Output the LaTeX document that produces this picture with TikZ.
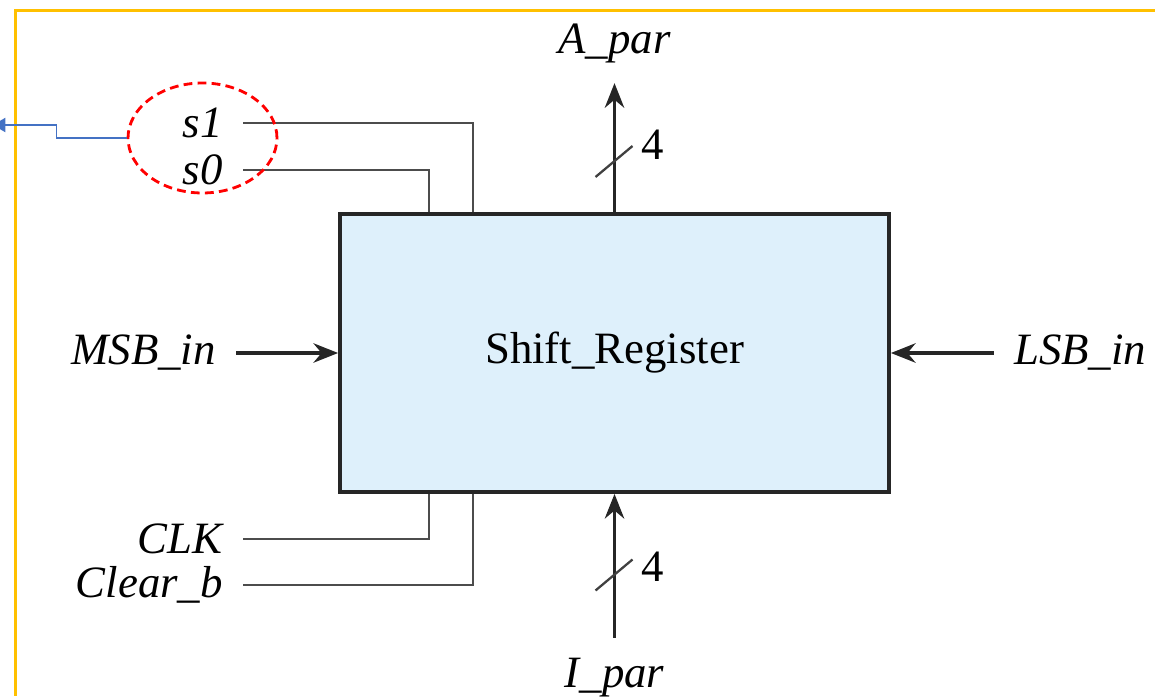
\documentclass[tikz,border=0pt]{standalone}
\usepackage{fontspec}
\setmainfont{Liberation Serif}
\usepackage{tikz}
\usetikzlibrary{shapes.geometric, arrows.meta, positioning}
\definecolor{regfill}{RGB}{222,240,251}
\definecolor{frameyellow}{RGB}{255,192,0}
\definecolor{selblue}{RGB}{68,114,196}

\begin{document}
\begin{tikzpicture}[x=0.02cm, y=-0.02cm,
    regbox/.style={rectangle, draw=black!85, fill=regfill, line width=2.2pt, minimum width=10.98cm, minimum height=5.56cm, align=center, font=\fontsize{25.5}{30}\selectfont},
    sig/.style={inner xsep=0.4cm, inner ysep=0.4cm, font=\fontsize{25.5}{30}\selectfont\itshape},
    width/.style={inner sep=0pt, font=\fontsize{25.5}{30}\selectfont},
    bus/.style={draw=black!85, line width=2.1pt, -{Stealth[length=14pt, width=11pt]}},
    ctrl/.style={draw=black!70, line width=1.4pt},
    slash/.style={draw=black!75, line width=1.3pt},
    ring/.style={ellipse, draw=red, line width=1.6pt, dash pattern=on 5pt off 3pt, minimum width=2.98cm, minimum height=2.2cm, inner sep=0pt},
    selarrow/.style={draw=selblue, line width=1pt, -{Triangle[length=7pt, width=8pt]}},
    frame/.style={draw=frameyellow, line width=1.3pt}
]
    \useasboundingbox (0,0) rectangle (1155,696);
    \draw [frame] (1155,10.5) -- (15.5,10.5) -- (15.5,696);

    % Nodes
    \node (reg) [regbox] at (614.5,353) {Shift\_Register};
    \node (apar) [sig, above=2.58cm of reg] {A\_par};
    \node (ipar) [sig, below=2.88cm of reg] {I\_par};
    \node (msb) [sig, left=2.04cm of reg] {MSB\_in};
    \node (lsb) [sig, right=2.06cm of reg] {LSB\_in};
    \node (s1) [sig, anchor=east] at (243,123) {s1};
    \node (s0) [sig, anchor=east] at (243,170) {s0};
    \node (clk) [sig, anchor=east] at (243,539) {CLK};
    \node (clr) [sig, anchor=east] at (243,585) {Clear\_b};
    \node (aw) [width] at (653,145) {4};
    \node (iw) [width] at (653,567) {4};

    % Data buses
    \draw [bus] (reg.north) -- (apar.south);
    \draw [bus] (ipar.north) -- (reg.south);
    \draw [bus] (msb.east) -- (reg.west);
    \draw [bus] (lsb.west) -- (reg.east);
    \draw [slash] (613.5,161.5) ++(-18,15.5) -- ++(37,-31);
    \draw [slash] (613.5,575) ++(-18,15.5) -- ++(37,-31);

    % Control lines
    \draw [ctrl] (s1.east) -| ([xshift=2.7cm]reg.north west);
    \draw [ctrl] (s0.east) -| ([xshift=1.82cm]reg.north west);
    \draw [ctrl] (clk.east) -| ([xshift=1.82cm]reg.south west);
    \draw [ctrl] (clr.east) -| ([xshift=2.7cm]reg.south west);

    % Mode select callout
    \node (selring) [ring] at (202.5,138) {};
    \coordinate (selend) at (-7,125);
    \draw [selarrow] (selring.west) -- ++(-70,0) |- (selend);
\end{tikzpicture}
\end{document}
